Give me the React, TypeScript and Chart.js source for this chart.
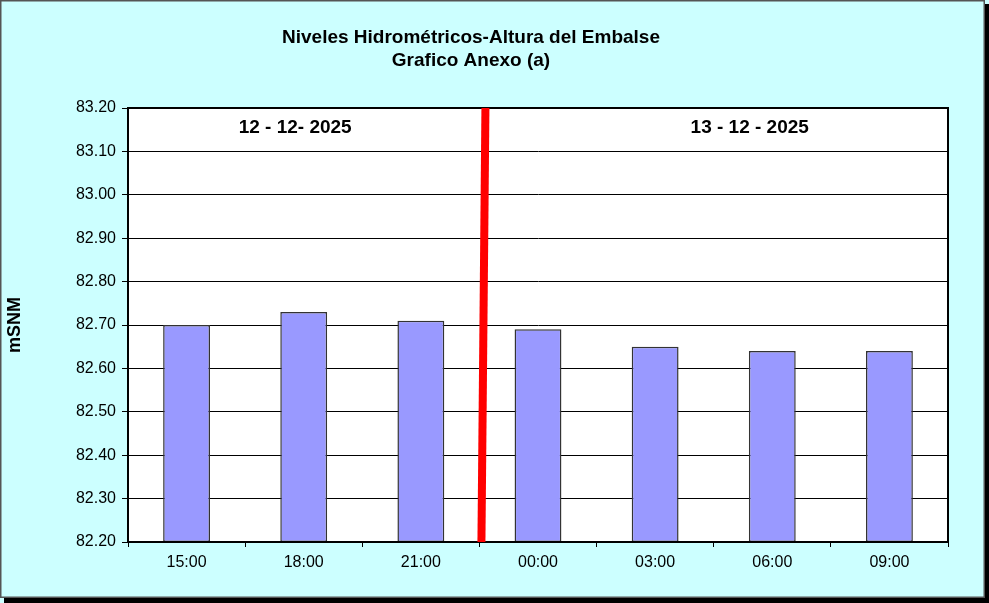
import React, { useEffect, useRef } from "react";
import { Chart, registerables } from "chart.js";

Chart.register(...registerables);

const categories = ["15:00", "18:00", "21:00", "00:00", "03:00", "06:00", "09:00"];
const levels = [82.7, 82.73, 82.71, 82.69, 82.65, 82.64, 82.64];
const titleLines = ["Niveles Hidrométricos-Altura del Embalse", "Grafico Anexo (a)"];
const dateLabels = ["12 - 12- 2025", "13 - 12 - 2025"];
const yMin = 82.2;
const yMax = 83.2;
const yStep = 0.1;
const yTitle = "mSNM";

const FONT = "'Liberation Sans', Arial, sans-serif";

const decorPlugin = {
  id: "decor",
  beforeDraw(chart: any) {
    const { ctx, width, height } = chart;
    ctx.save();
    ctx.fillStyle = "#CCFFFF";
    ctx.fillRect(0, 0, width, height);
    ctx.fillStyle = "#000";
    ctx.fillRect(4, height - 5, width - 4, 5);
    ctx.fillRect(width - 4, 4, 4, height - 4);
    ctx.strokeStyle = "#555";
    ctx.lineWidth = 1.5;
    ctx.strokeRect(0.75, 0.75, width - 5.5, height - 6.5);
    const a = chart.chartArea;
    ctx.fillStyle = "#FFFFFF";
    ctx.fillRect(a.left, a.top, a.right - a.left, a.bottom - a.top);
    ctx.restore();
  },
  afterDraw(chart: any) {
    const { ctx } = chart;
    const a = chart.chartArea;
    const xs = chart.scales.x;
    ctx.save();
    ctx.strokeStyle = "#000";
    ctx.lineWidth = 2;
    ctx.strokeRect(a.left, a.top, a.right - a.left, a.bottom - a.top);
    const boundary = (xs.getPixelForValue(2) + xs.getPixelForValue(3)) / 2;
    ctx.strokeStyle = "#FF0000";
    ctx.lineWidth = 8;
    ctx.beginPath();
    ctx.moveTo(boundary + 6, a.top);
    ctx.lineTo(boundary + 2, a.bottom);
    ctx.stroke();
    ctx.fillStyle = "#000";
    ctx.font = `bold 19px ${FONT}`;
    ctx.textAlign = "center";
    ctx.textBaseline = "middle";
    ctx.fillText(titleLines[0], 471, 38);
    ctx.fillText(titleLines[1], 471, 61);
    ctx.font = `bold 19px ${FONT}`;
    const d1 = (xs.getPixelForValue(0) + xs.getPixelForValue(1)) / 2;
    const d2 = (xs.getPixelForValue(4) + xs.getPixelForValue(5)) / 2;
    ctx.fillText(dateLabels[0], d1 + 50, 128);
    ctx.fillText(dateLabels[1], d2 + 36, 128);
    ctx.restore();
  },
};

export default function App() {
  const ref = useRef<HTMLCanvasElement>(null);
  useEffect(() => {
    if (!ref.current) return;
    const chart = new Chart(ref.current, {
      type: "bar",
      data: {
        labels: categories,
        datasets: [
          {
            data: levels.map((v) => [yMin, v]),
            backgroundColor: "#9999FF",
            borderColor: "#333333",
            borderWidth: 1.5,
            borderSkipped: false,
            barPercentage: 0.8,
            categoryPercentage: 0.5,
          },
        ],
      },
      options: {
        responsive: false,
        animation: false,
        devicePixelRatio: 1,
        layout: { padding: { top: 108, right: 41, left: 4, bottom: 0 } },
        plugins: { legend: { display: false }, tooltip: { enabled: false }, title: { display: false } },
        scales: {
          x: {
            type: "category",
            offset: true,
            grid: { offset: true, drawOnChartArea: false, drawTicks: true, tickLength: 5, color: "#000" },
            border: { display: true, color: "#000", width: 2 },
            ticks: { color: "#000", font: { family: FONT, size: 16 }, padding: 6, maxRotation: 0 },
            afterFit: (s: any) => {
              s.height = 61;
            },
          },
          y: {
            min: yMin,
            max: yMax,
            ticks: {
              stepSize: yStep,
              color: "#000",
              font: { family: FONT, size: 16 },
              padding: 6,
              callback: (v: any) => Number(v).toFixed(2),
            },
            grid: { color: "#000", lineWidth: 1, drawTicks: true, tickLength: 6 },
            border: { display: true, color: "#000", width: 2 },
            title: {
              display: true,
              text: yTitle,
              color: "#000",
              font: { family: FONT, size: 18, weight: "bold" },
              padding: { top: 0, bottom: 0 },
            },
            afterFit: (s: any) => {
              s.width = 124;
            },
          },
        },
      },
      plugins: [decorPlugin],
    });
    return () => chart.destroy();
  }, []);
  return (
    <div style={{ position: "fixed", left: 0, top: 0, width: 989, height: 603 }}>
      <canvas ref={ref} width={989} height={603} style={{ display: "block" }} />
    </div>
  );
}
